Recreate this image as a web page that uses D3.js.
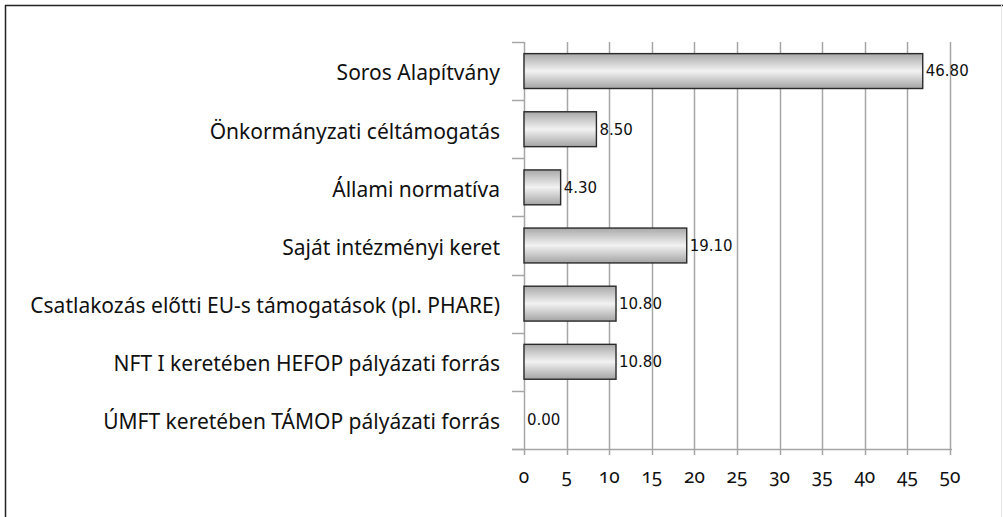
<!DOCTYPE html>
<html>
<head>
<meta charset="utf-8">
<script src="https://cdn.jsdelivr.net/npm/d3@7"></script>
<style>
  body { margin: 0; background: #fff; }
  svg { display: block; }
</style>
</head>
<body>
<script>
// categories from top to bottom
var categories = [
  "Soros Alapítvány",
  "Önkormányzati céltámogatás",
  "Állami normatíva",
  "Saját intézményi keret",
  "Csatlakozás előtti EU-s támogatások (pl. PHARE)",
  "NFT I keretében HEFOP pályázati forrás",
  "ÚMFT keretében TÁMOP pályázati forrás"
];
// values shown on the bars
var values = [46.80, 8.50, 4.30, 19.10, 10.80, 10.80, 0.00];
// x axis ticks
var xTicks = [0, 5, 10, 15, 20, 25, 30, 35, 40, 45, 50];

var W = 1003, H = 517;
var plotLeft = 524, plotRight = 950, plotTop = 42, plotBottom = 449;

var svg = d3.select("body").append("svg")
  .attr("width", W)
  .attr("height", H);

//gradient for the bars
var grad = svg.append("defs").append("linearGradient")
  .attr("id", "barGrad")
  .attr("x1", 0).attr("y1", 0).attr("x2", 0).attr("y2", 1);
grad.append("stop").attr("offset", "0%").attr("stop-color", "#a9a9a9");
grad.append("stop").attr("offset", "50%").attr("stop-color", "#f2f2f2");
grad.append("stop").attr("offset", "100%").attr("stop-color", "#a4a4a4");

//frame of the picture
svg.append("line").attr("x1", 5.5).attr("x2", 5.5).attr("y1", 5).attr("y2", H)
  .attr("stroke", "#222").attr("stroke-width", 1.5);
svg.append("line").attr("x1", 5).attr("x2", W).attr("y1", 5.5).attr("y2", 5.5)
  .attr("stroke", "#222").attr("stroke-width", 1.5);
svg.append("line").attr("x1", W - 1.5).attr("x2", W - 1.5).attr("y1", 5).attr("y2", H)
  .attr("stroke", "#e6e6e6").attr("stroke-width", 1);

var x = d3.scaleLinear().domain([0, 50]).range([plotLeft, plotRight]);
var y = d3.scaleBand().domain(categories).range([plotTop, plotBottom])
  .paddingInner(0.4).paddingOuter(0.2);

//vertical gridlines
svg.append("g").selectAll("line")
  .data(xTicks)
  .join("line")
  .attr("x1", d => Math.round(x(d)) + 0.5)
  .attr("x2", d => Math.round(x(d)) + 0.5)
  .attr("y1", plotTop)
  .attr("y2", plotBottom + 6)
  .attr("stroke", "#a6a6a6")
  .attr("stroke-width", 1.5);

//category separators on the left
var bandStep = (plotBottom - plotTop) / categories.length;
svg.append("g").selectAll("line")
  .data(d3.range(categories.length + 1))
  .join("line")
  .attr("x1", plotLeft - 12)
  .attr("x2", plotLeft)
  .attr("y1", d => Math.round(plotTop + d * bandStep) + 0.5)
  .attr("y2", d => Math.round(plotTop + d * bandStep) + 0.5)
  .attr("stroke", "#a6a6a6")
  .attr("stroke-width", 1.5);

//bottom axis line
svg.append("line")
  .attr("x1", plotLeft - 12).attr("x2", plotRight + 2)
  .attr("y1", plotBottom + 0.5).attr("y2", plotBottom + 0.5)
  .attr("stroke", "#a6a6a6").attr("stroke-width", 1.5);

//x tick labels
svg.append("g").selectAll("text")
  .data(xTicks)
  .join("text")
  .attr("x", d => x(d))
  .attr("y", plotBottom + 34)
  .attr("text-anchor", "middle")
  .style("font-family", "Noto Sans")
  .style("font-variant-numeric", "oldstyle-nums")
  .style("font-size", "19px")
  .style("fill", "#111")
  .text(d => d);

//bars
svg.append("g").selectAll("rect")
  .data(values)
  .join("rect")
  .attr("x", x(0))
  .attr("y", (d, i) => y(categories[i]))
  .attr("width", d => x(d) - x(0))
  .attr("height", y.bandwidth())
  .attr("fill", "url(#barGrad)")
  .attr("stroke", d => d > 0 ? "#2a2a2a" : "none")
  .attr("stroke-width", 1.4);

//value labels
svg.append("g").selectAll("text")
  .data(values)
  .join("text")
  .attr("x", d => x(d) + 3)
  .attr("y", (d, i) => y(categories[i]) + y.bandwidth() / 2)
  .attr("dy", "0.36em")
  .style("font-family", "'DejaVu Sans', Verdana, sans-serif")
  .style("font-size", "15px")
  .style("fill", "#111")
  .text(d => d.toFixed(2));

//category labels
svg.append("g").selectAll("text")
  .data(categories)
  .join("text")
  .attr("x", 500)
  .attr("y", d => y(d) + y.bandwidth() / 2 + 2)
  .attr("dy", "0.35em")
  .attr("text-anchor", "end")
  .style("font-family", "Noto Sans")
  .style("font-size", "21px")
  .style("fill", "#111")
  .text(d => d);
</script>
</body>
</html>
